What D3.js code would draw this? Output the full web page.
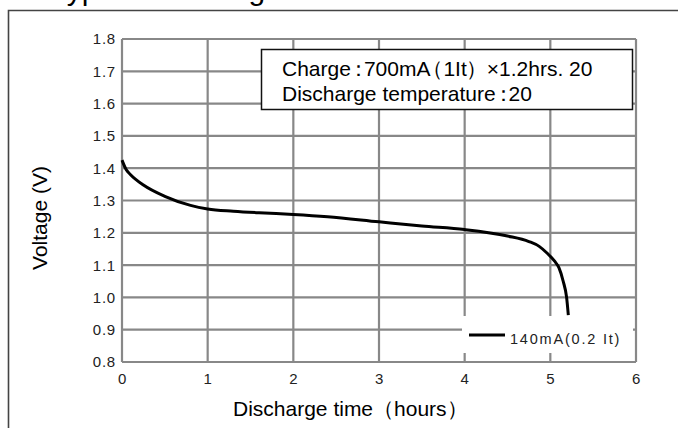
<!DOCTYPE html>
<html>
<head>
<meta charset="utf-8">
<script src="https://cdn.jsdelivr.net/npm/d3@7"></script>
<style>
  body { margin: 0; background: #fff; }
  svg { font-family: "Liberation Sans", Arial, sans-serif; display: block; }
  .grid line { stroke: #888; stroke-width: 2.2; }
  .tick-label { font-size: 15px; fill: #222; letter-spacing: 0.8px; }
</style>
</head>
<body>
<script>
var width = 678,
    height = 428;

// data
var timeHours = [0, 0.05, 0.1, 0.25, 0.5, 0.8, 1.0, 1.3, 1.6, 2.0, 2.4, 3.0, 3.5, 4.0, 4.5, 4.75, 4.87, 4.97, 5.05, 5.1, 5.15, 5.19, 5.21];
var voltage   = [1.425, 1.395, 1.38, 1.348, 1.313, 1.285, 1.274, 1.267, 1.262, 1.257, 1.25, 1.234, 1.221, 1.21, 1.19, 1.173, 1.158, 1.135, 1.112, 1.092, 1.05, 1.0, 0.945];
var xTicks = [0, 1, 2, 3, 4, 5, 6];
var yTicks = [0.8, 0.9, 1.0, 1.1, 1.2, 1.3, 1.4, 1.5, 1.6, 1.7, 1.8];
var legendLines = ["Charge：700mA（1It）×1.2hrs. 20", "Discharge temperature：20"];
var seriesName = "140mA(0.2 It)";

var svg = d3.select("body").append("svg")
    .attr("width", width)
    .attr("height", height);

// scales
var x = d3.scaleLinear().domain([0, 6]).range([122, 636]);
var y = d3.scaleLinear().domain([0.8, 1.8]).range([362, 39]);

// title, cut off at the top
svg.append("text")
    .attr("x", 50)
    .attr("y", 0)
    .style("font-size", "30px")
    .text("Typical discharge characteristics");

// outer frame
svg.append("path")
    .attr("d", "M8.5," + height + "V10.5H" + width)
    .attr("fill", "none")
    .attr("stroke", "#444")
    .attr("stroke-width", 1.6);

// grid
var grid = svg.append("g").attr("class", "grid");
grid.selectAll("line.v").data(xTicks).enter().append("line")
    .attr("x1", function(d){ return x(d); })
    .attr("x2", function(d){ return x(d); })
    .attr("y1", y(0.8))
    .attr("y2", y(1.8));
grid.selectAll("line.h").data(yTicks).enter().append("line")
    .attr("x1", x(0))
    .attr("x2", x(6))
    .attr("y1", function(d){ return y(d); })
    .attr("y2", function(d){ return y(d); });

// tick labels
svg.selectAll("text.xl").data(xTicks).enter().append("text")
    .attr("class", "tick-label")
    .attr("x", function(d){ return x(d) + 0.5; })
    .attr("y", 384)
    .attr("text-anchor", "middle")
    .text(function(d){ return d; });
svg.selectAll("text.yl").data(yTicks).enter().append("text")
    .attr("class", "tick-label")
    .attr("x", 116)
    .attr("y", function(d){ return y(d); })
    .attr("dy", "0.36em")
    .attr("text-anchor", "end")
    .text(function(d){ return d3.format(".1f")(d); });

// axis titles
svg.append("text")
    .attr("transform", "translate(47," + 218 + ") rotate(-90)")
    .attr("text-anchor", "middle")
    .style("font-size", "21px")
    .text("Voltage (V)");
svg.append("text")
    .attr("x", 233)
    .attr("y", 416)
    .style("font-size", "21px")
    .text("Discharge time（hours）");

// full-width punctuation sits tighter in the original
var tight = {"：": [-3, -5], "（": [-8, 0], "）": [-1, 0]};
function tightText(textSel, str) {
  var runs = [], cur = "";
  Array.from(str).forEach(function(ch) {
    if (tight[ch]) { if (cur) runs.push(cur); runs.push(ch); cur = ""; }
    else cur += ch;
  });
  if (cur) runs.push(cur);
  var carry = 0;
  runs.forEach(function(r) {
    var a = tight[r];
    textSel.append("tspan")
        .attr("dx", carry + (a ? a[0] : 0))
        .text(r);
    carry = a ? a[1] : 0;
  });
}

// legend box at the top
var box = svg.append("g");
box.append("rect")
    .attr("x", 261.5).attr("y", 49.5)
    .attr("width", 371).attr("height", 60)
    .attr("fill", "#fff")
    .attr("stroke", "#111")
    .attr("stroke-width", 1.5);
legendLines.forEach(function(s, i) {
  var t = box.append("text")
      .attr("x", 282)
      .attr("y", 76 + i * 25)
      .style("font-size", "21px");
  tightText(t, s);
});

// series legend at the bottom
svg.append("rect")
    .attr("x", 462).attr("y", 316)
    .attr("width", 171).attr("height", 37)
    .attr("fill", "#fff");
svg.append("line")
    .attr("x1", 469).attr("x2", 505)
    .attr("y1", 335).attr("y2", 335)
    .attr("stroke", "#000")
    .attr("stroke-width", 3);
svg.append("text")
    .attr("x", 510)
    .attr("y", 344)
    .style("font-size", "14.5px")
    .style("letter-spacing", "1.8px")
    .attr("fill", "#222")
    .text(seriesName);

// discharge curve
var pts = timeHours.map(function(t, i){ return [t, voltage[i]]; });
var line = d3.line()
    .x(function(d){ return x(d[0]); })
    .y(function(d){ return y(d[1]); })
    .curve(d3.curveMonotoneX);
svg.append("path")
    .attr("d", line(pts))
    .attr("fill", "none")
    .attr("stroke", "#000")
    .attr("stroke-width", 3);
</script>
</body>
</html>
